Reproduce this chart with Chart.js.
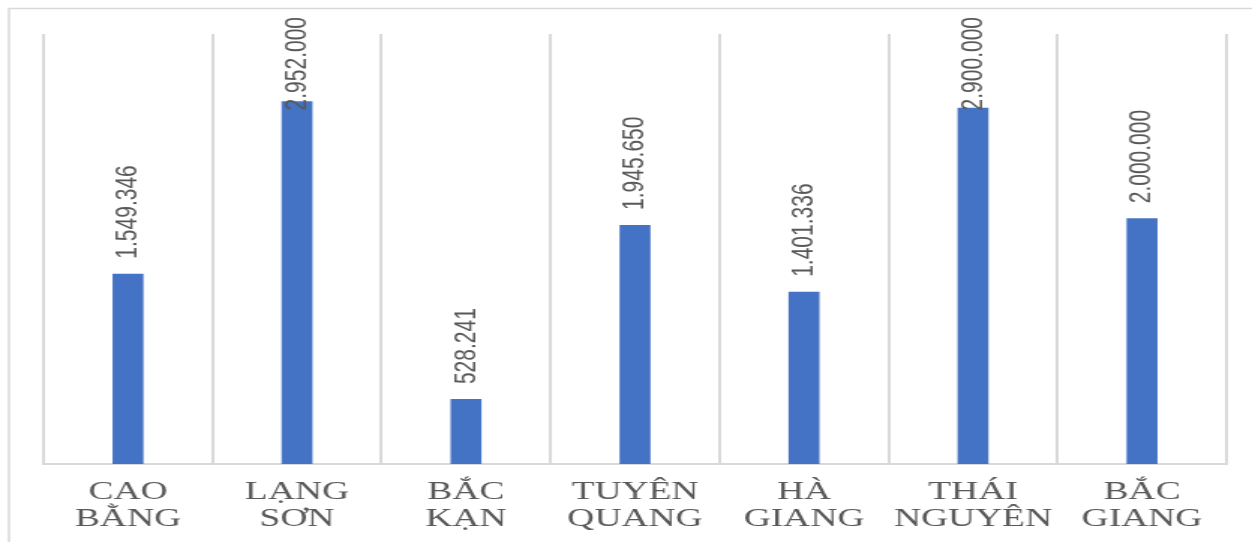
<!DOCTYPE html>
<html>
<head>
<meta charset="utf-8">
<script src="https://cdn.jsdelivr.net/npm/chart.js@4.4.1/dist/chart.umd.min.js"></script>
<style>
  html, body { margin: 0; padding: 0; background: #fff; }
  #chart { display: block; }
</style>
</head>
<body>
<!-- the reference picture is stretched sideways, so the canvas is too -->
<canvas id="chart" width="835" height="542" style="width:1252px;height:542px"></canvas>
<script>
const provinces = [
  ['CAO', 'BẰNG'],
  ['LẠNG', 'SƠN'],
  ['BẮC', 'KẠN'],
  ['TUYÊN', 'QUANG'],
  ['HÀ', 'GIANG'],
  ['THÁI', 'NGUYÊN'],
  ['BẮC', 'GIANG']
];
const values = [1549346, 2952000, 528241, 1945650, 1401336, 2900000, 2000000];
const yMax = 3500000;

const fmt = v => v.toLocaleString('de-DE');

const frame = {
  id: 'frame',
  beforeDraw(chart) {
    const ctx = chart.ctx;
    ctx.save();
    ctx.fillStyle = '#ffffff';
    ctx.fillRect(0, 0, chart.width, chart.height);
    ctx.strokeStyle = '#d9d9d9';
    ctx.lineWidth = 1.5;
    ctx.strokeRect(6, 8.5, chart.width + 20, chart.height + 20);
    ctx.restore();
  }
};

const barLabels = {
  id: 'barLabels',
  afterDatasetsDraw(chart) {
    const ctx = chart.ctx;
    const meta = chart.getDatasetMeta(0);
    ctx.save();
    ctx.font = '21px "Liberation Sans", Arial, sans-serif';
    ctx.fillStyle = '#595959';
    ctx.textAlign = 'left';
    ctx.textBaseline = 'middle';
    meta.data.forEach((bar, i) => {
      const text = fmt(values[i]);
      const w = ctx.measureText(text).width;
      let start = bar.y - 15;
      if (start - w < 17) start = 17 + w;
      ctx.save();
      ctx.translate(bar.x, start);
      ctx.rotate(-Math.PI / 2);
      ctx.fillText(text, 0, 0);
      ctx.restore();
    });
    ctx.restore();
  }
};

new Chart(document.getElementById('chart'), {
  type: 'bar',
  data: {
    labels: provinces,
    datasets: [{
      data: values,
      backgroundColor: '#4472c4',
      barPercentage: 0.183,
      categoryPercentage: 1
    }]
  },
  options: {
    responsive: false,
    animation: false,
    layout: { padding: { top: 34, left: 29, right: 17, bottom: -6 } },
    plugins: {
      legend: { display: false },
      tooltip: { enabled: false }
    },
    scales: {
      x: {
        grid: { color: '#d9d9d9', lineWidth: 2, drawTicks: false },
        border: { color: '#d9d9d9', width: 2 },
        ticks: {
          color: '#595959',
          font: { family: '"Liberation Serif", "Times New Roman", serif', size: 25, lineHeight: 1.08 },
          padding: 15,
          maxRotation: 0,
          autoSkip: false
        }
      },
      y: {
        display: false,
        min: 0,
        max: yMax
      }
    }
  },
  plugins: [frame, barLabels]
});
</script>
</body>
</html>
